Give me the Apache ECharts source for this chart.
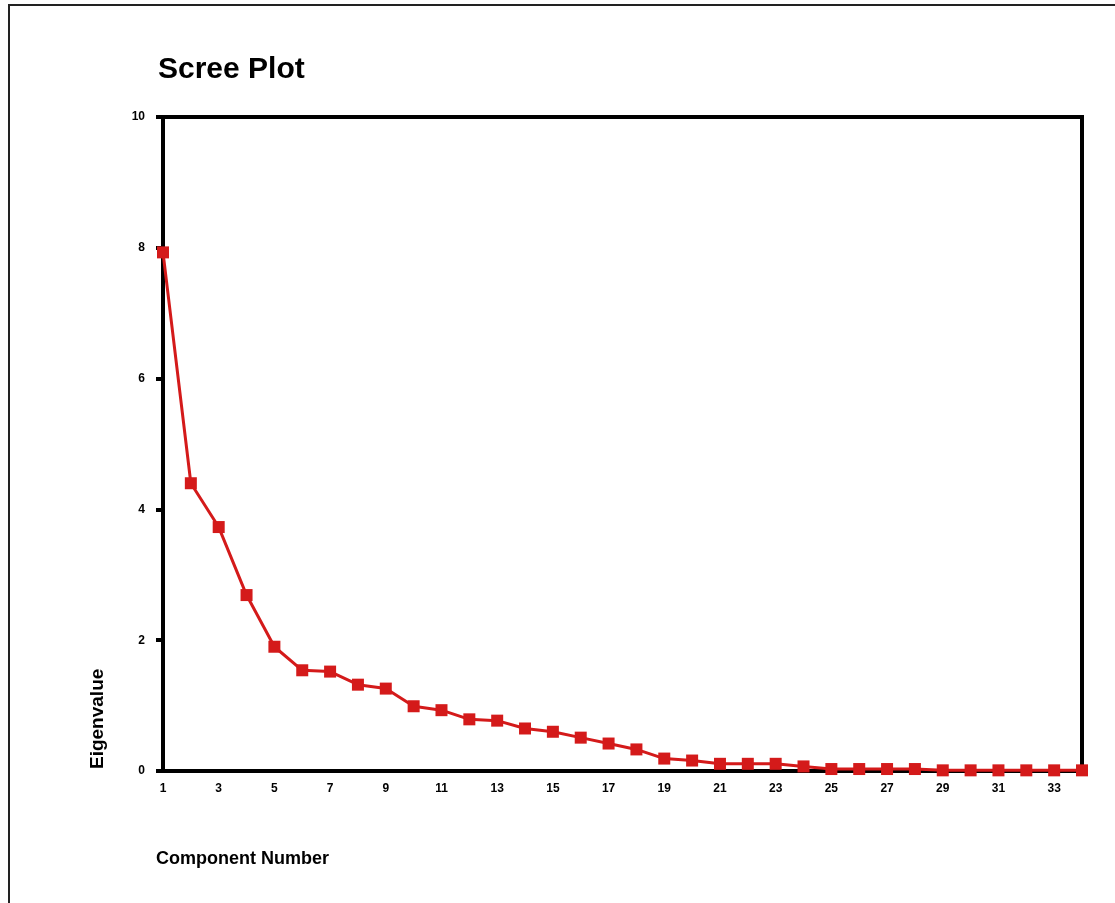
<!DOCTYPE html>
<html>
<head>
<meta charset="utf-8">
<script src="https://cdn.jsdelivr.net/npm/echarts@6/dist/echarts.min.js"></script>
<style>
  html, body { margin: 0; padding: 0; background: #fff; }
  #chart { width: 1115px; height: 903px; }
</style>
</head>
<body>
<div id="chart"></div>
<script>
const titleText = "Scree Plot";
const xAxisTitle = "Component Number";
const yAxisTitle = "Eigenvalue";
const components = [1,2,3,4,5,6,7,8,9,10,11,12,13,14,15,16,17,18,19,20,21,22,23,24,25,26,27,28,29,30,31,32,33,34];
const eigenvalues = [7.93,4.40,3.73,2.69,1.90,1.54,1.52,1.32,1.26,0.99,0.93,0.79,0.77,0.65,0.60,0.51,0.42,0.33,0.19,0.16,0.11,0.11,0.11,0.07,0.03,0.03,0.03,0.03,0.01,0.01,0.01,0.01,0.01,0.01];
const xTickLabels = [1,3,5,7,9,11,13,15,17,19,21,23,25,27,29,31,33];
const yTickLabels = [0,2,4,6,8,10];

const chart = echarts.init(document.getElementById('chart'), null, { renderer: 'canvas' });
const fontFam = '"Liberation Sans", Arial, sans-serif';
const red = '#d41a1a';

chart.setOption({
  animation: false,
  backgroundColor: '#ffffff',
  title: {
    text: titleText,
    left: 153,
    top: 50,
    textStyle: { fontFamily: fontFam, fontSize: 30, fontWeight: 'bold', color: '#000' }
  },
  grid: {
    left: 163, right: 33, top: 117, bottom: 132,
    show: true, borderColor: '#000', borderWidth: 4, backgroundColor: 'transparent'
  },
  xAxis: {
    type: 'value',
    min: components[0],
    max: components[components.length - 1],
    splitLine: { show: false },
    axisLine: { show: true, onZero: false, lineStyle: { color: '#000', width: 4 } },
    axisTick: { show: false },
    axisLabel: {
      customValues: xTickLabels,
      margin: 12,
      fontFamily: fontFam, fontSize: 12, fontWeight: 'bold', color: '#000'
    }
  },
  yAxis: {
    type: 'value',
    min: yTickLabels[0],
    max: yTickLabels[yTickLabels.length - 1],
    interval: 2,
    splitLine: { show: false },
    axisLine: { show: true, lineStyle: { color: '#000', width: 4 } },
    axisTick: { show: true, length: 7, lineStyle: { color: '#000', width: 4 } },
    axisLabel: {
      margin: 18,
      fontFamily: fontFam, fontSize: 12, fontWeight: 'bold', color: '#000'
    }
  },
  graphic: [
    {
      type: 'polyline',
      shape: { points: [[9, 903], [9, 5], [1115, 5]] },
      style: { stroke: '#222', lineWidth: 2, fill: null }
    },
    {
      type: 'text',
      left: 156, top: 850,
      style: { text: xAxisTitle, fontFamily: fontFam, fontSize: 18, fontWeight: 'bold', fill: '#000' }
    },
    {
      type: 'text',
      x: 88, y: 769,
      rotation: Math.PI / 2,
      style: { text: yAxisTitle, fontFamily: fontFam, fontSize: 19, fontWeight: 'bold', fill: '#000', textBaseline: 'top' }
    }
  ],
  series: [{
    type: 'line',
    data: components.map((c, i) => [c, eigenvalues[i]]),
    symbol: 'rect',
    symbolSize: 12,
    clip: false,
    itemStyle: { color: red },
    lineStyle: { color: red, width: 3 }
  }]
});
</script>
</body>
</html>
